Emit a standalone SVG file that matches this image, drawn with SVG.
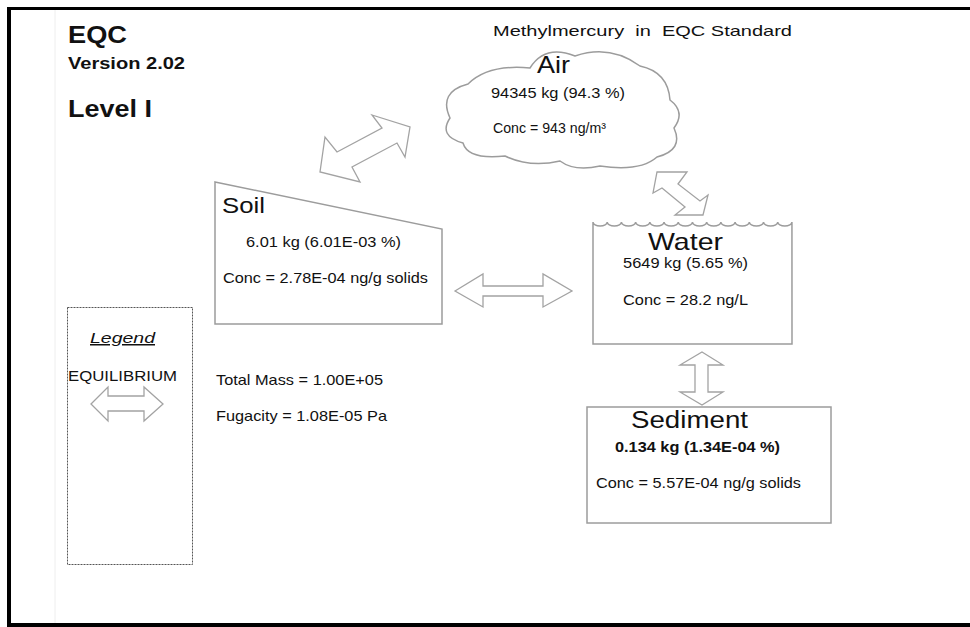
<svg xmlns="http://www.w3.org/2000/svg" width="970" height="627" viewBox="0 0 970 627">
<style>
.t{font-family:"Liberation Sans",Arial,sans-serif;fill:#111}
.s{font-size:14.5px}
.b{font-weight:bold}
.box{fill:#fff;stroke:#9c9c9c;stroke-width:1.5}
.arr{fill:#fff;stroke:#a3a3a3;stroke-width:1.3;stroke-linejoin:miter}
</style>
<rect x="0" y="0" width="970" height="627" fill="#fff"/>
<line x1="55" y1="10" x2="55" y2="623" stroke="#eeeeee" stroke-width="1"/>
<g id="frame" fill="#000">
<rect x="7" y="7" width="963" height="3"/>
<rect x="7" y="7" width="4" height="620"/>
<rect x="7" y="623" width="963" height="4"/>
</g>
<g id="header">
<text class="t b" x="68" y="43" font-size="23" textLength="59" lengthAdjust="spacingAndGlyphs">EQC</text>
<text class="t b" x="68" y="69" font-size="16" textLength="117" lengthAdjust="spacingAndGlyphs">Version 2.02</text>
<text class="t b" x="68" y="117" font-size="23" textLength="84" lengthAdjust="spacingAndGlyphs">Level I</text>
<text class="t" x="493" y="36" font-size="14.5" fill="#222" style="white-space:pre" textLength="299" lengthAdjust="spacingAndGlyphs">Methylmercury  in  EQC Standard</text>
</g>
<g id="connectors">
<polygon class="arr" points="372,115 410,127 405,157 397,143 352,167 360,182 320,172 325,137 337,152 382,128"/>
<polygon class="arr" points="657,172 687,172 678,184 700,201 708,195 703,215 675,215 685,207 662,188 653,193"/>
<polygon class="arr" points="455,291 483,274 483,286 543,286 543,274 572,291 543,307 543,296 483,296 483,307"/>
<polygon class="arr" points="702,352 723,365 708,365 708,392 723,392 702,405 680,392 695,392 695,365 680,365"/>
</g>
<g id="air">
<path class="box" d="M450,118 Q438,92 468,84 Q488,64 530,68 Q545,44 575,56 Q610,44 640,66 Q668,72 670,100 Q686,112 674,128 Q684,150 657,157 Q640,172 600,166 Q575,172 560,161 Q530,168 505,156 Q468,160 463,143 Q438,136 450,118 Z"/>
<text class="t" x="537" y="73" font-size="24" textLength="33" lengthAdjust="spacingAndGlyphs">Air</text>
<text class="t s" x="491" y="98" textLength="134" lengthAdjust="spacingAndGlyphs">94345 kg (94.3 %)</text>
<text class="t s" x="493" y="133" textLength="113" lengthAdjust="spacingAndGlyphs">Conc = 943 ng/m³</text>
</g>
<g id="soil">
<polygon class="box" points="215,182 442,229 442,324 215,324"/>
<text class="t" x="222" y="213" font-size="22" textLength="43" lengthAdjust="spacingAndGlyphs">Soil</text>
<text class="t s" x="246" y="247" textLength="155" lengthAdjust="spacingAndGlyphs">6.01 kg (6.01E-03 %)</text>
<text class="t s" x="223" y="283" textLength="205" lengthAdjust="spacingAndGlyphs">Conc = 2.78E-04 ng/g solids</text>
</g>
<g id="water">
<path class="box" d="M593,222 a7.1,4 0 0 0 14.21,0 a7.1,4 0 0 0 14.21,0 a7.1,4 0 0 0 14.21,0 a7.1,4 0 0 0 14.21,0 a7.1,4 0 0 0 14.21,0 a7.1,4 0 0 0 14.21,0 a7.1,4 0 0 0 14.21,0 a7.1,4 0 0 0 14.21,0 a7.1,4 0 0 0 14.21,0 a7.1,4 0 0 0 14.21,0 a7.1,4 0 0 0 14.21,0 a7.1,4 0 0 0 14.21,0 a7.1,4 0 0 0 14.21,0 a7.1,4 0 0 0 14.21,0 L792,344 L593,344 Z"/>
<text class="t" x="648" y="250" font-size="24" textLength="75" lengthAdjust="spacingAndGlyphs">Water</text>
<text class="t s" x="623" y="268" textLength="125" lengthAdjust="spacingAndGlyphs">5649 kg (5.65 %)</text>
<text class="t s" x="623" y="305" textLength="125" lengthAdjust="spacingAndGlyphs">Conc = 28.2 ng/L</text>
</g>
<g id="sediment">
<rect class="box" x="587" y="407" width="244" height="116"/>
<text class="t" x="631" y="428" font-size="23" textLength="117" lengthAdjust="spacingAndGlyphs">Sediment</text>
<text class="t s b" x="615" y="452" textLength="165" lengthAdjust="spacingAndGlyphs">0.134 kg (1.34E-04 %)</text>
<text class="t s" x="596" y="488" textLength="205" lengthAdjust="spacingAndGlyphs">Conc = 5.57E-04 ng/g solids</text>
</g>
<g id="legend">
<rect x="67.5" y="307.5" width="125" height="257" fill="none" stroke="#555" stroke-width="1" stroke-dasharray="2,1"/>
<text class="t" x="90" y="343" font-size="15" font-style="italic" text-decoration="underline" fill="#333" textLength="65" lengthAdjust="spacingAndGlyphs">Legend</text>
<text class="t s" x="68" y="381" textLength="109" lengthAdjust="spacingAndGlyphs">EQUILIBRIUM</text>
<polygon class="arr" points="91,404 108,387 108,396 144,396 144,387 163,404 144,421 144,411 108,411 108,421"/>
</g>
<g id="totals">
<text class="t s" x="216" y="385" textLength="167" lengthAdjust="spacingAndGlyphs">Total Mass = 1.00E+05</text>
<text class="t s" x="216" y="421" textLength="171" lengthAdjust="spacingAndGlyphs">Fugacity = 1.08E-05 Pa</text>
</g>
</svg>
